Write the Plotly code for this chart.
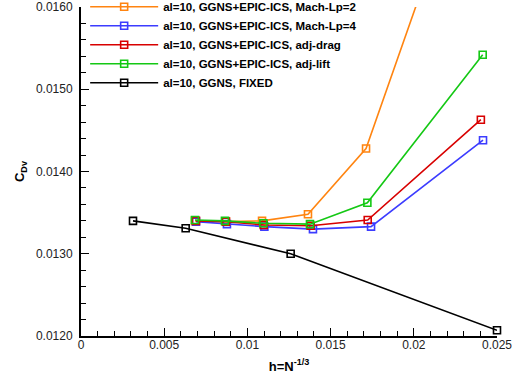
import plotly.graph_objects as go

# Grid spacing h = N^(-1/3) and viscous drag coefficient per adaptation strategy
h_mach2 = [0.00685, 0.00871, 0.01088, 0.01364, 0.01713, 0.02410]
cdv_mach2 = [0.01340, 0.01339, 0.01340, 0.01348, 0.01428, 0.01830]

h_mach4 = [0.00691, 0.00877, 0.01102, 0.01394, 0.01743, 0.02416]
cdv_mach4 = [0.01339, 0.01336, 0.01333, 0.01330, 0.01333, 0.01438]

h_drag = [0.00691, 0.00871, 0.01098, 0.01380, 0.01723, 0.02403]
cdv_drag = [0.01340, 0.01339, 0.01335, 0.01334, 0.01341, 0.01463]

h_lift = [0.00685, 0.00865, 0.01096, 0.01376, 0.01721, 0.02414]
cdv_lift = [0.01341, 0.01340, 0.01337, 0.01336, 0.01362, 0.01542]

h_fixed = [0.003125, 0.00629, 0.01260, 0.02500]
cdv_fixed = [0.01340, 0.01331, 0.01300, 0.01207]

series = [
    ("al=10, GGNS+EPIC-ICS, Mach-Lp=2", h_mach2, cdv_mach2, "#ff8410", True),
    ("al=10, GGNS+EPIC-ICS, Mach-Lp=4", h_mach4, cdv_mach4, "#3c3cff", False),
    ("al=10, GGNS+EPIC-ICS, adj-drag", h_drag, cdv_drag, "#d80000", False),
    ("al=10, GGNS+EPIC-ICS, adj-lift", h_lift, cdv_lift, "#14c814", False),
    ("al=10, GGNS, FIXED", h_fixed, cdv_fixed, "#000000", False),
]

FONT = "Liberation Sans, Arial, sans-serif"

fig = go.Figure()
for name, hx, cy, color, clip in series:
    fig.add_trace(go.Scatter(
        x=hx, y=cy, name=name, mode="lines+markers",
        line=dict(color=color, width=1.6),
        marker=dict(symbol="square-open", size=7, color=color,
                    line=dict(color=color, width=1.6)),
        cliponaxis=clip,
    ))

fig.update_layout(
    width=521, height=382,
    margin=dict(l=81, r=24, t=7, b=46, autoexpand=False),
    paper_bgcolor="white", plot_bgcolor="white",
    font=dict(family=FONT, size=12, color="#222222"),
    showlegend=True,
    legend=dict(
        x=0.01, y=1.045, xanchor="left", yanchor="top",
        bgcolor="rgba(255,255,255,0)", borderwidth=0,
        font=dict(family=FONT, size=11.5, color="black", weight="bold"),
        itemwidth=68, tracegroupgap=0,
    ),
    xaxis=dict(
        range=[0, 0.025], dtick=0.005, tick0=0,
        showline=True, linecolor="black", linewidth=2,
        showgrid=False, zeroline=False,
        ticks="inside", ticklen=8, tickwidth=1.2, tickcolor="black",
        minor=dict(ticks="inside", ticklen=5, dtick=0.001, tickwidth=1, tickcolor="black"),
        tickfont=dict(size=12, color="#222222"),
        ticklabelstandoff=-3,
        title=dict(text="<b>h=N<sup>-1/3</sup></b>", font=dict(size=13, color="black"), standoff=10),
    ),
    yaxis=dict(
        range=[0.012, 0.016], dtick=0.001, tick0=0.012, tickformat=".4f",
        showline=True, linecolor="black", linewidth=2,
        showgrid=False, zeroline=False,
        ticks="inside", ticklen=8, tickwidth=1.2, tickcolor="black",
        minor=dict(ticks="inside", ticklen=5, dtick=0.0002, tickwidth=1, tickcolor="black"),
        tickfont=dict(size=12, color="#222222"),
        ticklabelstandoff=4,
        title=dict(text="<b>C<sub>Dv</sub></b>", font=dict(size=13, color="black"), standoff=8),
    ),
)

fig.write_html("out.html")
